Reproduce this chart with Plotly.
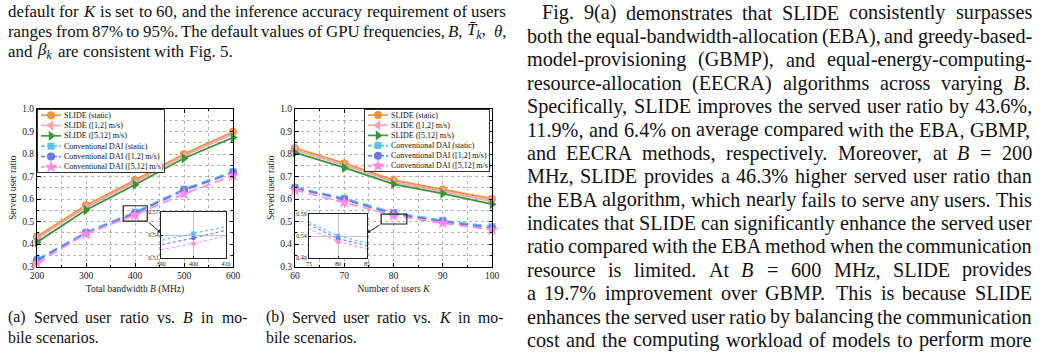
import re
import plotly.graph_objects as go

W, H = 1042, 353
FONT = "Liberation Serif, Times New Roman, serif"

# ---------------- data ----------------
bandwidth_MHz = [200, 300, 400, 500, 600]
num_users = [60, 70, 80, 90, 100]

series_labels = ["SLIDE (static)", "SLIDE ([1,2] m/s)", "SLIDE ([5,12] m/s)",
                 "Conventional DAI (static)", "Conventional DAI ([1,2] m/s)",
                 "Conventional DAI ([5,12] m/s)"]

B_slide_static = [0.433, 0.572, 0.684, 0.800, 0.899]
B_slide_12 = [0.424, 0.563, 0.675, 0.792, 0.889]
B_slide_512 = [0.408, 0.551, 0.663, 0.781, 0.873]
B_dai_static = [0.332, 0.452, 0.542, 0.644, 0.722]
B_dai_12 = [0.326, 0.449, 0.536, 0.639, 0.717]
B_dai_512 = [0.315, 0.445, 0.529, 0.623, 0.704]

K_slide_static = [0.826, 0.759, 0.684, 0.642, 0.601]
K_slide_12 = [0.817, 0.750, 0.676, 0.634, 0.590]
K_slide_512 = [0.806, 0.739, 0.666, 0.624, 0.577]
K_dai_static = [0.652, 0.603, 0.540, 0.505, 0.477]
K_dai_12 = [0.648, 0.598, 0.534, 0.500, 0.471]
K_dai_512 = [0.640, 0.585, 0.527, 0.493, 0.463]

B_ticks = [200, 300, 400, 500, 600]
K_ticks = [60, 70, 80, 90, 100]
ratio_ticks = [0.3, 0.4, 0.5, 0.6, 0.7, 0.8, 0.9, 1.0]
inset_B_xticks = [390, 400, 410]
inset_B_yticks = [0.51, 0.54, 0.57]
inset_K_xticks = [75, 80, 85]
inset_K_yticks = [0.49, 0.54, 0.59]
zoom_box_B = ([376, 425], [0.502, 0.570])
zoom_box_K = ([77.5, 82.7], [0.489, 0.533])

# ---------------- styles ----------------
STYLES = [
    dict(color="#F0923E", symbol="circle", dash="solid", size=8),
    dict(color="#F5A3AE", symbol="triangle-left", dash="solid", size=9),
    dict(color="#3A943A", symbol="triangle-right", dash="solid", size=9),
    dict(color="#5CC0F5", symbol="square", dash="9px,5px", size=7),
    dict(color="#6677F2", symbol="circle", dash="9px,5px", size=8),
    dict(color="#FF8BE6", symbol="star", dash="9px,5px", size=10),
]

B_series = [B_slide_static, B_slide_12, B_slide_512, B_dai_static, B_dai_12, B_dai_512]
K_series = [K_slide_static, K_slide_12, K_slide_512, K_dai_static, K_dai_12, K_dai_512]

# geometry in pixels
PA = (37, 233, 109, 266.5)
PB = (295, 492, 109, 266.5)
INSET_A = (161, 226, 212, 258)
INSET_B = (309, 367, 214, 258)
LEG_A = (38, 164, 110, 172)
LEG_B = (365, 489, 110, 171)


def xdom(g):
    return [g[0] / W, g[1] / W]


def ydom(g):
    return [1 - g[3] / H, 1 - g[2] / H]


fig = go.Figure()

# main panels
for xs, series, xa, ya in [(bandwidth_MHz, B_series, "x", "y"), (num_users, K_series, "x2", "y2")]:
    for ys, st in zip(series, STYLES):
        fig.add_trace(go.Scatter(
            x=xs, y=ys, xaxis=xa, yaxis=ya, mode="lines+markers", cliponaxis=False,
            line=dict(color=st["color"], width=1.8, dash=st["dash"]),
            marker=dict(symbol=st["symbol"], size=st["size"], color=st["color"], line=dict(width=0)),
            showlegend=False, hoverinfo="skip"))

# insets (same data, zoomed axes)
for xs, series, xa, ya in [(bandwidth_MHz, B_series, "x3", "y3"), (num_users, K_series, "x4", "y4")]:
    for ys, st in zip(series, STYLES):
        fig.add_trace(go.Scatter(
            x=xs, y=ys, xaxis=xa, yaxis=ya, mode="lines+markers", cliponaxis=True,
            line=dict(color=st["color"], width=1.1, dash="3px,2.5px"),
            marker=dict(symbol=st["symbol"], size=st["size"] * 0.6, color=st["color"], line=dict(width=0)),
            showlegend=False, hoverinfo="skip"))

# custom compact legends
ANN = []
for xa, ya, g in [("x5", "y5", LEG_A), ("x6", "y6", LEG_B)]:
    for i, (lab, st) in enumerate(zip(series_labels, STYLES)):
        fig.add_trace(go.Scatter(x=[3, 23], y=[i + 0.5, i + 0.5], xaxis=xa, yaxis=ya, mode="lines",
                                 line=dict(color=st["color"], width=1.6, dash="solid" if st["dash"] == "solid" else "4px,2px"),
                                 showlegend=False, hoverinfo="skip"))
        fig.add_trace(go.Scatter(x=[13], y=[i + 0.5], xaxis=xa, yaxis=ya, mode="markers",
                                 marker=dict(symbol=st["symbol"], size=st["size"], color=st["color"], line=dict(width=0)),
                                 showlegend=False, hoverinfo="skip"))
        ANN.append(dict(xref=xa, yref=ya, x=24.5, y=i + 0.5, text=lab, showarrow=False, xanchor="left",
                        yanchor="middle", borderpad=0, font=dict(family=FONT, size=8, color="#111111")))

tickfont = dict(family=FONT, size=9.5, color="#1a1a1a")
titlefont = dict(family=FONT, size=9.5, color="#1a1a1a")
GRID = "#b5b5b5"


def main_axis(g, dom, rng, tickvals, minor_dtick, title, fmt=None, standoff=4):
    d = dict(domain=dom, range=rng, tickvals=tickvals, showline=True, linecolor="black", linewidth=1,
             mirror="allticks", ticks="inside", ticklen=3.5, tickwidth=0.8, tickcolor="black",
             zeroline=False, showgrid=True, gridcolor=GRID, gridwidth=0.7, griddash="dot",
             tickfont=tickfont, title=dict(text=title, font=titlefont, standoff=standoff),
             minor=dict(dtick=minor_dtick, tick0=rng[0], ticks="inside", ticklen=2, tickwidth=0.6,
                        tickcolor="black", showgrid=True, gridcolor=GRID, gridwidth=0.7, griddash="dot"))
    if fmt:
        d["tickformat"] = fmt
    return d


def inset_axis(dom, rng, tickvals, fmt=None):
    d = dict(domain=dom, range=rng, tickvals=tickvals, showline=True, linecolor="#222222", linewidth=1,
             mirror=True, ticks="inside", ticklen=2, tickwidth=0.6, tickcolor="#222",
             zeroline=False, showgrid=True, gridcolor="#c4c4c4", gridwidth=0.8,
             tickfont=dict(family=FONT, size=6, color="#1a1a1a"))
    if fmt:
        d["tickformat"] = fmt
    return d


def legend_axis(dom, rng):
    return dict(domain=dom, range=rng, showline=True, linecolor="#333333", linewidth=1, mirror=True,
                showgrid=False, zeroline=False, showticklabels=False, ticks="")


layout = dict(
    width=W, height=H, margin=dict(l=0, r=0, t=0, b=0), template="none",
    paper_bgcolor="#ffffff", plot_bgcolor="#fffffe", showlegend=False,
    xaxis=main_axis(PA, xdom(PA), [200, 600], B_ticks, 50, "Total bandwidth <i>B</i> (MHz)", standoff=5),
    yaxis=main_axis(PA, ydom(PA), [0.3, 1.0], ratio_ticks, 0.05, "Served user ratio", ".1f", standoff=3),
    xaxis2=main_axis(PB, xdom(PB), [60, 100], K_ticks, 5, "Number of users <i>K</i>", standoff=5),
    yaxis2=main_axis(PB, ydom(PB), [0.3, 1.0], ratio_ticks, 0.05, "Served user ratio", ".1f", standoff=3),
    xaxis3=inset_axis(xdom(INSET_A), [390, 410], inset_B_xticks),
    yaxis3=inset_axis(ydom(INSET_A), [0.51, 0.57], inset_B_yticks, ".2f"),
    xaxis4=inset_axis(xdom(INSET_B), [75, 85], inset_K_xticks),
    yaxis4=inset_axis(ydom(INSET_B), [0.49, 0.59], inset_K_yticks, ".2f"),
    xaxis5=legend_axis(xdom(LEG_A), [0, LEG_A[1] - LEG_A[0]]),
    yaxis5=legend_axis(ydom(LEG_A), [6, 0]),
    xaxis6=legend_axis(xdom(LEG_B), [0, LEG_B[1] - LEG_B[0]]),
    yaxis6=legend_axis(ydom(LEG_B), [6, 0]),
)
for k in ["xaxis3", "xaxis4", "xaxis5", "xaxis6"]:
    layout[k]["anchor"] = "y" + k[-1]
for k in ["yaxis3", "yaxis4", "yaxis5", "yaxis6"]:
    layout[k]["anchor"] = "x" + k[-1]
layout["xaxis2"]["anchor"] = "y2"
layout["yaxis2"]["anchor"] = "x2"
fig.update_layout(**layout)

# zoom rectangles
shapes = []
for (bx, by), xr, yr in [(zoom_box_B, "x", "y"), (zoom_box_K, "x2", "y2")]:
    shapes.append(dict(type="rect", xref=xr, yref=yr, x0=bx[0], x1=bx[1], y0=by[0], y1=by[1],
                       line=dict(color="#222222", width=1.2), fillcolor="rgba(0,0,0,0)", layer="above"))
fig.update_layout(shapes=shapes)


def to_data(px, py, g, xr, yr):
    x = xr[0] + (px - g[0]) / (g[1] - g[0]) * (xr[1] - xr[0])
    y = yr[1] - (py - g[2]) / (g[3] - g[2]) * (yr[1] - yr[0])
    return x, y


hx, hy = to_data(INSET_A[0], 233, PA, [200, 600], [0.3, 1.0])
ANN.append(dict(xref="x", yref="y", axref="x", ayref="y", x=hx, y=hy, ax=zoom_box_B[0][1], ay=zoom_box_B[1][0],
                showarrow=True, arrowhead=2, arrowsize=0.7, arrowwidth=1, arrowcolor="#222222", text=""))
hx, hy = to_data(INSET_B[1], 233, PB, [60, 100], [0.3, 1.0])
ANN.append(dict(xref="x2", yref="y2", axref="x2", ayref="y2", x=hx, y=hy, ax=zoom_box_K[0][0], ay=zoom_box_K[1][0],
                showarrow=True, arrowhead=2, arrowsize=0.7, arrowwidth=1, arrowcolor="#222222", text=""))

# ---------------- page text (justified word by word) ----------------
_W = {' ': 250, '!': 333, '%': 833, '(': 333, ')': 333, ',': 250, '-': 333, '.': 250, '/': 278,
      ':': 278, ';': 278, '=': 564, '[': 333, ']': 333, 'θ': 480, 'β': 500, '\u0304': 0}
for _d in "0123456789":
    _W[_d] = 500
_W.update(dict(zip("ABCDEFGHIJKLMNOPQRSTUVWXYZ",
                   [722, 667, 667, 722, 611, 556, 722, 722, 333, 389, 722, 611, 889, 722, 722, 556, 722,
                    667, 556, 611, 722, 722, 944, 722, 722, 611])))
_W.update(dict(zip("abcdefghijklmnopqrstuvwxyz",
                   [444, 500, 444, 500, 444, 333, 500, 500, 278, 278, 500, 278, 778, 500, 500, 500, 500,
                    333, 389, 278, 500, 500, 722, 500, 500, 444])))


def text_em(s):
    plain = re.sub(r"<[^>]+>", "", s)
    return sum(_W.get(c, 500) for c in plain) / 1000.0


def add_line(line, x0, x1, yc, fs, justify=True):
    words = line.split(" ")
    widths = [text_em(w) * fs for w in words]
    if justify and len(words) > 1:
        gap = (x1 - x0 - sum(widths)) / (len(words) - 1)
    else:
        gap = 0.25 * fs
    x = x0
    for w, wd in zip(words, widths):
        ANN.append(dict(xref="paper", yref="paper", x=x / W, y=1 - yc / H, text=w, showarrow=False,
                        xanchor="left", yanchor="middle", borderpad=0,
                        font=dict(family=FONT, size=fs, color="#111111")))
        x += wd + gap


left_lines = [
    "default for <i>K</i> is set to 60, and the inference accuracy requirement of users",
    "ranges from 87% to 95%. The default values of GPU frequencies, <i>B</i>, <i>T\u0304</i><sub><i>k</i></sub>, <i>θ</i>,",
    "and <i>β</i><sub><i>k</i></sub> are consistent with Fig. 5.",
]
for i, ln in enumerate(left_lines):
    add_line(ln, 7, 505, 11.5 + i * 20.0, 16.9, justify=(i < 2))

cap_a = ["(a) Served user ratio vs. <i>B</i> in mo-", "bile scenarios."]
cap_b = ["(b) Served user ratio vs. <i>K</i> in mo-", "bile scenarios."]
for i in range(2):
    add_line(cap_a[i], 7, 246, 317 + i * 20.5, 15.8, justify=(i == 0))
    add_line(cap_b[i], 265, 502, 317 + i * 20.5, 15.8, justify=(i == 0))

right_lines = [
    "Fig. 9(a) demonstrates that SLIDE consistently surpasses",
    "both the equal-bandwidth-allocation (EBA), and greedy-based-",
    "model-provisioning (GBMP), and equal-energy-computing-",
    "resource-allocation (EECRA) algorithms across varying <i>B</i>.",
    "Specifically, SLIDE improves the served user ratio by 43.6%,",
    "11.9%, and 6.4% on average compared with the EBA, GBMP,",
    "and EECRA methods, respectively. Moreover, at <i>B</i> = 200",
    "MHz, SLIDE provides a 46.3% higher served user ratio than",
    "the EBA algorithm, which nearly fails to serve any users. This",
    "indicates that SLIDE can significantly enhance the served user",
    "ratio compared with the EBA method when the communication",
    "resource is limited. At <i>B</i> = 600 MHz, SLIDE provides",
    "a 19.7% improvement over GBMP. This is because SLIDE",
    "enhances the served user ratio by balancing the communication",
    "cost and the computing workload of models to perform more",
]
for i, ln in enumerate(right_lines):
    add_line(ln, 541 if i == 0 else 526, 1031, 13.0 + i * 23.35, 20.2, justify=True)

fig.update_layout(annotations=ANN)
fig.write_html("out.html")
